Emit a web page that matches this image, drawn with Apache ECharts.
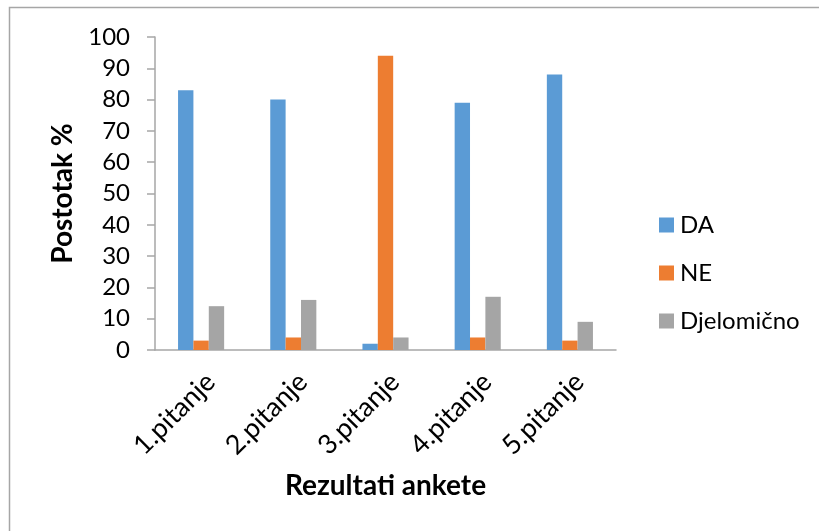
<!DOCTYPE html>
<html>
<head>
<meta charset="utf-8">
<style>
  html, body { margin: 0; padding: 0; background: #fff; }
  #chart { width: 819px; height: 531px; }
</style>
<script src="https://cdn.jsdelivr.net/npm/echarts@6/dist/echarts.min.js"></script>
</head>
<body>
<div id="chart"></div>
<script>
// Survey results: share of answers per question
const categories = ['1.pitanje', '2.pitanje', '3.pitanje', '4.pitanje', '5.pitanje'];
const seriesNames = ['DA', 'NE', 'Djelomično'];
const daValues = [83, 80, 2, 79, 88];
const neValues = [3, 4, 94, 4, 3];
const djelomicnoValues = [14, 16, 4, 17, 9];
const yTicks = { min: 0, max: 100, interval: 10 };

const colors = ['#5B9BD5', '#ED7D31', '#A5A5A5'];
const font = 'Lato, "Open Sans", sans-serif';
const axisGray = '#A6A6A6';

const chart = echarts.init(document.getElementById('chart'), null, { renderer: 'canvas' });

const seriesData = [daValues, neValues, djelomicnoValues];

chart.setOption({
  animation: false,
  backgroundColor: '#ffffff',
  color: colors,
  graphic: [{
    type: 'rect',
    silent: true,
    shape: { x: 9.5, y: 7.5, width: 830, height: 540 },
    style: { fill: 'none', stroke: '#A6A6A6', lineWidth: 1.5 }
  }],
  grid: { left: 155, right: 203, top: 37, bottom: 181, containLabel: false },
  legend: {
    orient: 'vertical',
    left: 659,
    top: 213,
    padding: 0,
    itemWidth: 15,
    itemHeight: 15,
    itemGap: 24,
    icon: 'rect',
    textStyle: { fontFamily: font, fontSize: 24, color: '#000', padding: [0, 0, 0, 1] },
    data: seriesNames
  },
  xAxis: {
    type: 'category',
    data: categories,
    name: 'Rezultati ankete',
    nameLocation: 'middle',
    nameGap: 122,
    nameTextStyle: { fontFamily: font, fontSize: 28, fontWeight: 'bold', color: '#000' },
    axisLine: { lineStyle: { color: axisGray, width: 1.5 } },
    axisTick: { show: false },
    axisLabel: {
      rotate: 45, margin: 18, verticalAlign: 'top',
      fontFamily: font, fontSize: 27, color: '#000'
    }
  },
  yAxis: {
    type: 'value',
    min: yTicks.min,
    max: yTicks.max,
    interval: yTicks.interval,
    name: 'Postotak %',
    nameLocation: 'middle',
    nameGap: 78,
    nameTextStyle: { fontFamily: font, fontSize: 28, fontWeight: 'bold', color: '#000' },
    splitLine: { show: false },
    axisLine: { show: true, lineStyle: { color: axisGray, width: 1.5 } },
    axisTick: { show: true, length: 8, lineStyle: { color: axisGray, width: 1.5 } },
    axisLabel: { margin: 25, fontFamily: font, fontSize: 24, color: '#000' }
  },
  series: seriesNames.map((name, i) => ({
    name: name,
    type: 'bar',
    data: seriesData[i],
    barGap: '0%',
    barCategoryGap: '50%',
    itemStyle: { color: colors[i] }
  }))
});
</script>
</body>
</html>
